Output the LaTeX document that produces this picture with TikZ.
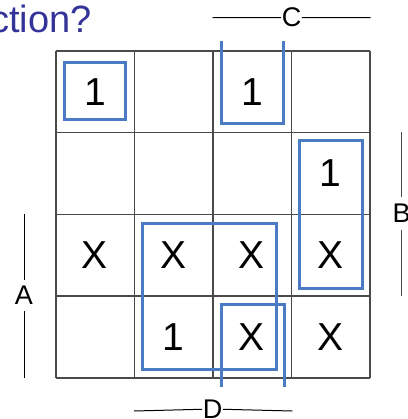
\documentclass[tikz,border=0pt]{standalone}
\usepackage{fontspec}
\setmainfont{Liberation Sans}
\definecolor{loopblue}{HTML}{4A7BC4}
\definecolor{titleblue}{HTML}{333399}
\definecolor{gridgray}{HTML}{4A4A4A}
\begin{document}
\begin{tikzpicture}[x=1pt,y=-1pt,
  cellval/.style={font=\fontsize{39}{39}\selectfont, inner sep=0pt},
  gridline/.style={draw=gridgray, line width=1.2pt},
  loopline/.style={draw=loopblue, line width=3pt, line join=miter},
  varlabel/.style={font=\fontsize{27}{27}\selectfont, inner sep=0.5pt},
  varline/.style={draw=black, line width=1pt}]
\useasboundingbox (0,0) rectangle (407,419);
\clip (0,0) rectangle (407,419);
% title
\node[anchor=base east, text=titleblue, font=\fontsize{38}{38}\selectfont, inner sep=0pt] (title) at (92,33) {ction?};
% grid
\foreach \x in {56,134.5,213,291.5,370} \draw[gridline] (\x,51) -- (\x,378);
\foreach \y in {51,132.5,214.5,296,378} \draw[gridline] (56,\y) -- (370,\y);
% cell values
\node[cellval] (c11) at (95,91.75) {1};
\node[cellval] (c13) at (252,91.75) {1};
\node[cellval] (c24) at (330.5,173.5) {1};
\node[cellval] (c31) at (95,255.25) {X};
\node[cellval] (c32) at (173.5,255.25) {X};
\node[cellval] (c33) at (252,255.25) {X};
\node[cellval] (c34) at (330.5,255.25) {X};
\node[cellval] (c42) at (173.5,337) {1};
\node[cellval] (c43) at (252,337) {X};
\node[cellval] (c44) at (330.5,337) {X};
% loops
\draw[loopline] (64,63) rectangle (125,120);
\draw[loopline] (221,41) -- (221,124) -- (283,124) -- (283,41);
\draw[loopline] (299,141) rectangle (362,288);
\draw[loopline] (142,223) rectangle (276,369);
\draw[loopline] (221,387) -- (221,304) -- (284,304) -- (284,387);
% variable labels
\node[varlabel] (labC) at (291.5,17.5) {C};
\coordinate (C1) at (212.7,17.7);
\coordinate (C2) at (370.7,17.7);
\draw[varline] (C1) -- (labC) -- (C2);
\node[varlabel] (labD) at (212.5,409) {D};
\coordinate (D1) at (134,411);
\coordinate (D2) at (292.3,411);
\draw[varline] (D1) -- (labD) -- (D2);
\node[varlabel, inner ysep=6pt] (labA) at (24,295.5) {A};
\coordinate (A1) at (24,214);
\coordinate (A2) at (24,378);
\draw[varline] (A1) -- (labA) -- (A2);
\node[varlabel, inner ysep=7pt] (labB) at (401.7,213.5) {B};
\coordinate (B1) at (401.7,132.5);
\coordinate (B2) at (401.7,296);
\draw[varline, draw=gridgray] (B1) -- (labB) -- (B2);
\end{tikzpicture}
\end{document}
